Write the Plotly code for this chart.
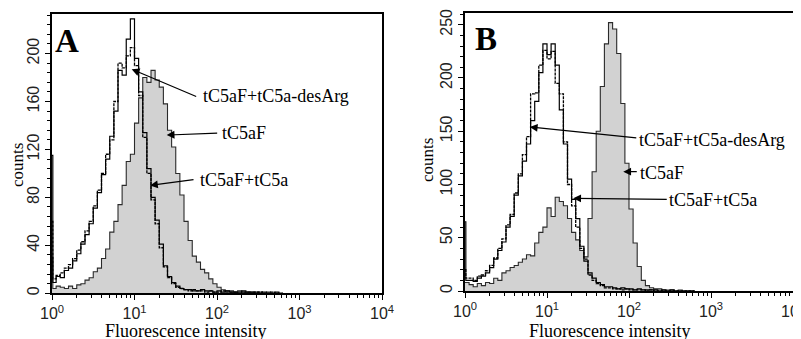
import plotly.graph_objects as go

# ---------------- data ----------------
# log10 of fluorescence channel (first entry is the pile-up channel at 10^0)
LOG_FL = [0.00, 0.01, 0.05, 0.10, 0.15, 0.20, 0.25, 0.30, 0.35, 0.40, 0.45,
          0.50, 0.55, 0.60, 0.65, 0.70, 0.75, 0.80, 0.85, 0.90, 0.95,
          1.00, 1.05, 1.10, 1.15, 1.20, 1.25, 1.30, 1.35, 1.40, 1.45,
          1.50, 1.55, 1.60, 1.65, 1.70, 1.75, 1.80, 1.85, 1.90, 1.95,
          2.00, 2.05, 2.10, 2.15, 2.20, 2.25, 2.30, 2.35, 2.40, 2.45,
          2.50, 2.55, 2.60, 2.65, 2.70, 2.75, 2.80]

# Panel A
A_TC5AF = [30, 4, 6, 5, 4, 6, 4, 7, 8, 11, 13, 18, 21, 29, 37, 51, 60, 74, 90, 110,
           116, 142, 163, 180, 176, 186, 178, 172, 158, 136, 122, 100, 82, 60, 44, 31, 26, 20, 17, 12,
           8, 5, 3, 2, 2, 1, 2, 1, 1, 1, 0, 1, 0, 1, 0, 0, 0, 0]
A_TC5A = [115, 9, 14, 13, 19, 21, 27, 33, 41, 49, 58, 71, 84, 99, 112, 131, 152, 186, 182, 212,
          229, 196, 168, 134, 104, 80, 61, 41, 23, 14, 9, 6, 4, 3, 3, 2, 2, 3, 2, 2,
          1, 2, 1, 2, 1, 1, 1, 2, 1, 1, 1, 0, 1, 0, 0, 1, 0, 0]
A_DESARG = [60, 12, 15, 17, 21, 24, 29, 36, 43, 52, 60, 73, 86, 100, 116, 128, 160, 192, 188, 198,
            205, 190, 165, 130, 100, 78, 58, 38, 22, 13, 8, 5, 4, 3, 2, 3, 2, 2, 1, 2,
            1, 1, 2, 1, 1, 1, 0, 1, 1, 0, 1, 1, 0, 0, 1, 0, 0, 0]

# Panel B
B_TC5AF = [8, 8, 6, 4, 7, 5, 8, 7, 12, 10, 17, 19, 22, 24, 27, 30, 34, 33, 45, 55,
           60, 78, 70, 88, 84, 80, 68, 55, 48, 38, 32, 68, 112, 150, 192, 232, 252, 246, 223, 176,
           120, 77, 45, 23, 10, 5, 3, 2, 2, 1, 1, 1, 0, 1, 0, 0, 0, 0]
B_TC5A = [65, 10, 10, 9, 12, 14, 17, 22, 30, 38, 46, 60, 70, 90, 108, 122, 138, 160, 178, 205,
          232, 222, 232, 212, 170, 138, 105, 86, 68, 42, 28, 17, 12, 8, 6, 4, 4, 3, 2, 3,
          2, 2, 1, 2, 1, 1, 1, 1, 0, 1, 0, 1, 0, 0, 0, 0, 0, 0]
B_DESARG = [20, 12, 12, 10, 14, 15, 19, 24, 31, 40, 49, 62, 72, 92, 110, 128, 145, 185, 186, 212,
            226, 218, 225, 195, 185, 140, 100, 80, 60, 40, 30, 15, 10, 7, 5, 3, 3, 2, 2, 1,
            2, 1, 1, 1, 1, 0, 1, 0, 0, 0, 0, 0, 0, 0, 0, 0, 0, 0]

X_TICKVALS = [1, 10, 100, 1000, 10000]
X_TICKTEXT = ["10<sup>0</sup>", "10<sup>1</sup>", "10<sup>2</sup>", "10<sup>3</sup>", "10<sup>4</sup>"]
A_YTICKS = [0, 40, 80, 120, 160, 200]
B_YTICKS = [0, 50, 100, 150, 200, 250]
LABEL_DES = "tC5aF+tC5a-desArg"
LABEL_F = "tC5aF"
LABEL_A = "tC5aF+tC5a"

# ---------------- figure ----------------
OFF = 8                      # page body margin of the html page
WIN_W, WIN_H = 801, 339
W, H = WIN_W - OFF, WIN_H - OFF
FL = [10 ** v for v in LOG_FL]
SERIF = "Liberation Serif, Times New Roman, serif"
SANS = "Liberation Sans Narrow, Liberation Sans, Arial, sans-serif"
GREY = "#d2d2d2"


def px(x):
    return (x - OFF) / W


def py(y):
    return 1 - (y - OFF) / H


fig = go.Figure()


def add_panel(xa, ya, grey, solid, dashed):
    fig.add_trace(go.Scatter(x=FL, y=grey, mode="lines", line_shape="hv",
                             fill="tozeroy", fillcolor=GREY,
                             line=dict(color="#2a2a2a", width=1.1),
                             xaxis=xa, yaxis=ya, showlegend=False, hoverinfo="skip"))
    fig.add_trace(go.Scatter(x=FL, y=dashed, mode="lines", line_shape="hv",
                             line=dict(color="black", width=1.3, dash="3px,1px"),
                             xaxis=xa, yaxis=ya, showlegend=False, hoverinfo="skip"))
    fig.add_trace(go.Scatter(x=FL, y=solid, mode="lines", line_shape="hv",
                             line=dict(color="black", width=1.2),
                             xaxis=xa, yaxis=ya, showlegend=False, hoverinfo="skip"))


add_panel("x", "y", A_TC5AF, A_TC5A, A_DESARG)
add_panel("x2", "y2", B_TC5AF, B_TC5A, B_DESARG)

minor_x = [m * d for d in (1, 10, 100, 1000) for m in range(2, 10)]


def xaxis(domain, anchor):
    return dict(type="log", range=[0, 4], domain=domain, anchor=anchor, automargin=False,
                showline=True, linecolor="black", linewidth=1.6, mirror=True,
                ticks="outside", ticklen=5, tickwidth=1.2, tickcolor="black",
                tickmode="array", tickvals=X_TICKVALS, ticktext=X_TICKTEXT,
                ticklabeloverflow="allow",
                tickfont=dict(family=SANS, size=16, color="#222"),
                showgrid=False, zeroline=False,
                minor=dict(tickmode="array", tickvals=minor_x, ticks="outside",
                           ticklen=3, tickwidth=1, tickcolor="black", showgrid=False))


def yaxis(domain, rng, ticks, anchor):
    return dict(range=rng, domain=domain, anchor=anchor, automargin=False,
                showline=True, linecolor="black", linewidth=1.6, mirror=True,
                ticks="outside", ticklen=5, tickwidth=1.2, tickcolor="black",
                tickmode="array", tickvals=ticks, tickangle=-90,
                ticklabeloverflow="allow",
                tickfont=dict(family=SANS, size=16, color="#222"),
                showgrid=False, zeroline=False,
                minor=dict(dtick=(ticks[1] - ticks[0]) / 5, ticks="outside",
                           ticklen=3, tickwidth=1, tickcolor="black", showgrid=False))


fig.update_layout(
    width=W, height=H, margin=dict(l=0, r=0, t=0, b=0, autoexpand=False),
    paper_bgcolor="white", plot_bgcolor="white",
    xaxis=xaxis([px(52), px(382)], "y"),
    yaxis=yaxis([py(293.3), py(14)], [0, 233], A_YTICKS, "x"),
    xaxis2=xaxis([px(465), px(793)], "y2"),
    yaxis2=yaxis([py(291), py(13)], [0, 261], B_YTICKS, "x2"),
)

ann = []


def text(x, y, s, size=18, bold=False, angle=0, xanchor="left"):
    ann.append(dict(xref="paper", yref="paper", x=px(x), y=py(y), text=("<b>%s</b>" % s) if bold else s,
                    showarrow=False, xanchor=xanchor, yanchor="middle", textangle=angle,
                    font=dict(family=SERIF, size=size, color="black")))


def arrow(xr, yr, lx, v, ax, ay):
    ann.append(dict(xref=xr, yref=yr, x=lx, y=v, text="", showarrow=True,
                    axref="pixel", ayref="pixel", ax=ax, ay=ay,
                    arrowhead=2, arrowsize=1.3, arrowwidth=1.2, arrowcolor="black"))


# panel letters
text(53, 41, "A", size=33, bold=True)
text(473, 39, "B", size=33, bold=True)

# panel A labels + arrows
text(201, 96, LABEL_DES)
arrow("x", "y", 0.966, 187, 66, 28)
text(220, 133, LABEL_F)
arrow("x", "y", 1.39, 132, 52, -2)
text(198, 180, LABEL_A)
arrow("x", "y", 1.188, 90, 45, -6)

# panel B labels + arrows
text(637, 140, LABEL_DES)
arrow("x2", "y2", 0.79, 154, 108, 11)
text(638, 173, LABEL_F)
arrow("x2", "y2", 1.93, 112, 15, 0)
text(667, 200, LABEL_A)
arrow("x2", "y2", 1.32, 87, 95, 1)

# axis titles
text(18, 165, "counts", size=17, angle=-90, xanchor="center")
text(185, 331, "Fluorescence intensity", xanchor="center")
text(428, 160, "counts", size=17, angle=-90, xanchor="center")
text(609, 331, "Fluorescence intensity", xanchor="center")

fig.update_layout(annotations=ann)
fig.write_html("out.html")
